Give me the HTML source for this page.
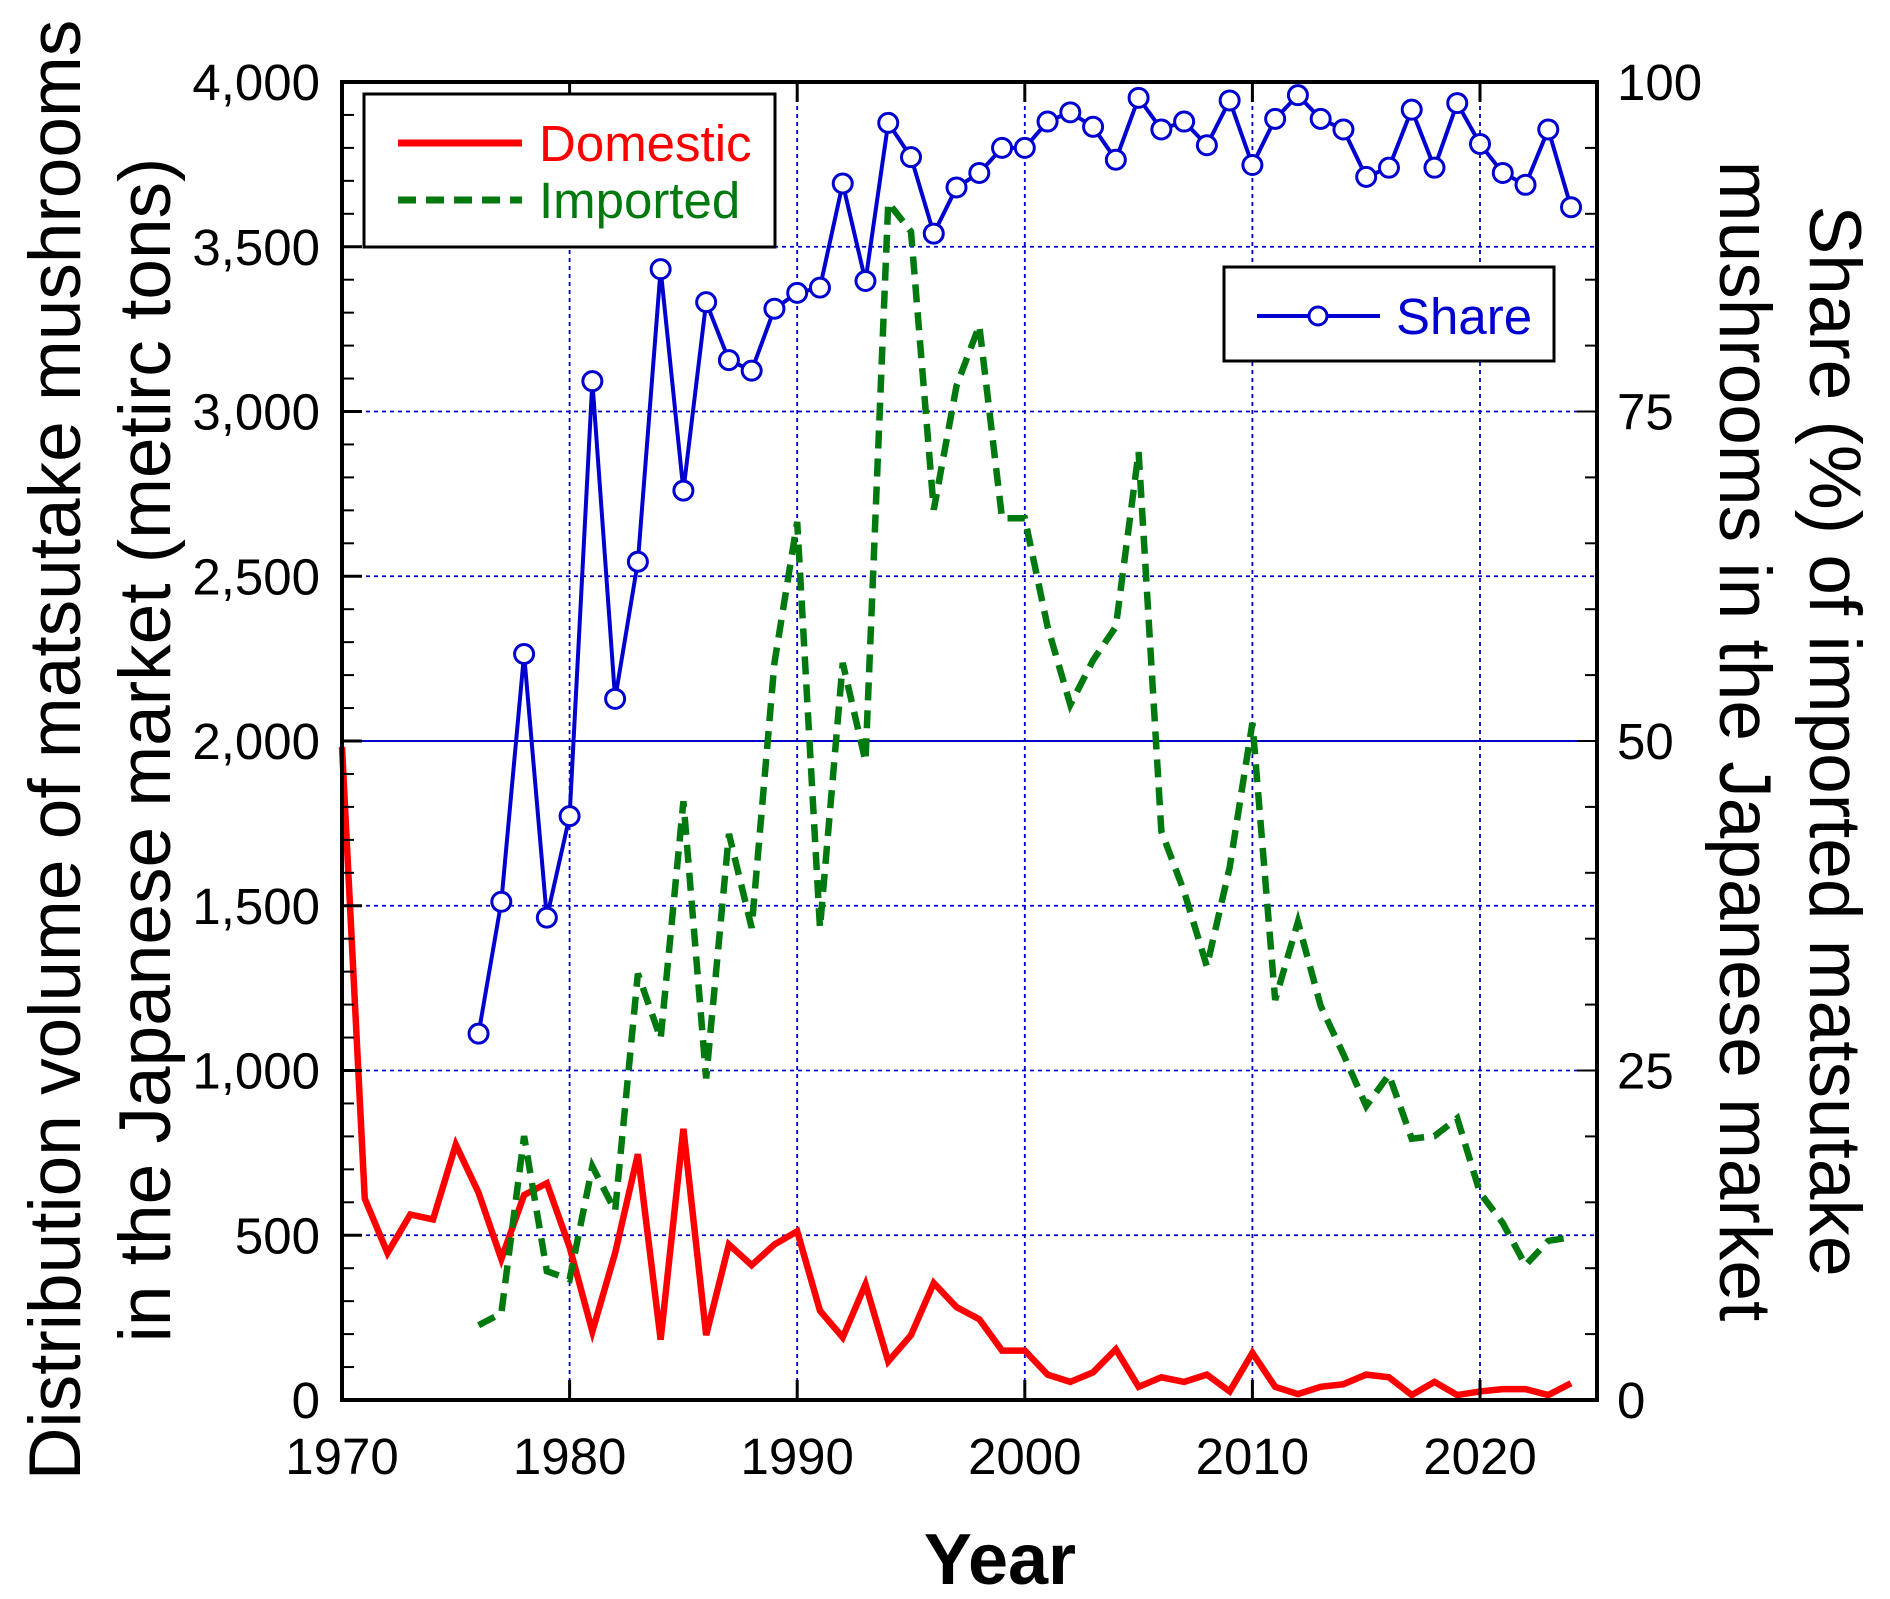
<!DOCTYPE html>
<html><head><meta charset="utf-8"><style>
html,body{margin:0;padding:0;background:#fff;}
svg{display:block;font-family:"Liberation Sans",Arial,sans-serif;}
</style></head><body>
<svg id="chart" width="1890" height="1599" viewBox="0 0 1890 1599" xmlns="http://www.w3.org/2000/svg">
<g id="grid"></g>
<g id="series"></g>
<g id="axes"></g>
<text x="1000" y="1584" font-size="72" text-anchor="middle" font-weight="bold">Year</text>
<text transform="translate(80,750) rotate(-90)" font-size="73" text-anchor="middle">Distribution volume of matsutake mushrooms</text>
<text transform="translate(170,750) rotate(-90)" font-size="73" text-anchor="middle">in the Japanese market (metirc tons)</text>
<text transform="translate(1810,741) rotate(90)" font-size="73" text-anchor="middle">Share (%) of imported matsutake</text>
<text transform="translate(1720,741) rotate(90)" font-size="73" text-anchor="middle">mushrooms in the Japanese market</text>
<g>
<rect x="364" y="94" width="411" height="153" fill="#fff" stroke="#000" stroke-width="3"/>
<line x1="398" y1="143" x2="522" y2="143" stroke="#f00" stroke-width="7"/>
<text x="539" y="161" font-size="51" fill="#f00">Domestic</text>
<line x1="398" y1="200" x2="522" y2="200" stroke="#007a0f" stroke-width="7" stroke-dasharray="18,10"/>
<text x="539" y="218" font-size="51" fill="#007a0f">Imported</text>
</g>
<g>
<rect x="1224" y="267" width="330" height="94" fill="#fff" stroke="#000" stroke-width="3"/>
<line x1="1257" y1="316" x2="1380" y2="316" stroke="#0000d0" stroke-width="4"/>
<circle cx="1318" cy="316" r="9" fill="#fff" stroke="#0000d0" stroke-width="3"/>
<text x="1396" y="334" font-size="51" fill="#0000d0">Share</text>
</g>
</svg>
<script>
const years = [];
for (let y = 1970; y <= 2024; y++) years.push(y);
const domestic = [1982,611,446,563,548,775,629,428,622,658,464,208,446,746,183,823,197,472,409,472,512,271,190,351,117,197,355,282,245,150,150,77,55,84,154,40,69,55,77,26,143,40,18,40,48,77,69,15,55,15,26,33,33,15,51];
const importYears = [];
for (let y = 1976; y <= 2024; y++) importYears.push(y);
const imported = [227,263,801,391,366,709,574,1294,1097,1817,976,1718,1433,2237,2665,1433,2237,1938,3634,3546,2702,3078,3261,2676,2676,2347,2110,2245,2347,2877,1726,1543,1316,1616,2055,1214,1451,1196,1049,892,987,793,801,855,629,537,409,483,494];
const share = [27.8,37.8,56.6,36.6,44.3,77.3,53.2,63.6,85.8,69.0,83.3,78.9,78.1,82.8,84.0,84.4,92.3,84.9,96.9,94.3,88.5,92.0,93.1,95.0,95.0,97.0,97.7,96.6,94.1,98.8,96.4,97.0,95.2,98.6,93.7,97.2,99.0,97.2,96.4,92.8,93.5,97.9,93.5,98.4,95.3,93.1,92.2,96.4,90.5];
const leftTicks = ["0","500","1,000","1,500","2,000","2,500","3,000","3,500","4,000"];
const rightTicks = ["0","25","50","75","100"];
const xTicks = ["1970","1980","1990","2000","2010","2020"];

const L=342,R=1597,T=82,B=1400;
const x = yr => L + (yr-1970)*(1480-342)/50;
const yL = v => B - v/4000*(B-T);
const yR = v => B - v/100*(B-T);
const NS="http://www.w3.org/2000/svg";
function mk(tag, parent, attrs){const e=document.createElementNS(NS,tag);for(const k in attrs)e.setAttribute(k,attrs[k]);parent.appendChild(e);return e;}
const grid=document.getElementById('grid'), ser=document.getElementById('series'), ax=document.getElementById('axes');

xTicks.forEach((t,i)=>{const yr=+t;const px=x(yr);
 if(i>0){const g=mk('line',grid,{x1:px,y1:T,x2:px,y2:B,stroke:'#0000c8','stroke-width':1.8,'stroke-dasharray':'4,4'});
 
 }
 mk('line',ax,{x1:px,y1:B,x2:px,y2:B-20,stroke:'#000','stroke-width':3});
 mk('line',ax,{x1:px,y1:T,x2:px,y2:T+20,stroke:'#000','stroke-width':3});
 const tx=mk('text',ax,{x:px,y:1474,'font-size':51,'text-anchor':'middle'});tx.textContent=t;
 
 
});
leftTicks.forEach((t,i)=>{const v=i*500;const py=yL(v);
 if(i>0&&i<8){const g=mk('line',grid,{x1:L,y1:py,x2:R,y2:py,stroke:'#0000c8','stroke-width':v===2000?2:1.8,'stroke-dasharray':v===2000?'none':'4,4'});
 
 }
 mk('line',ax,{x1:L,y1:py,x2:L+20,y2:py,stroke:'#000','stroke-width':3});
 const tx=mk('text',ax,{x:320,y:py+18,'font-size':51,'text-anchor':'end'});tx.textContent=t;
 
 
});
for(let v=100;v<4000;v+=100){if(v%500)mk('line',ax,{x1:L,y1:yL(v),x2:L+12,y2:yL(v),stroke:'#000','stroke-width':2});}
for(let v=5;v<100;v+=5){mk('line',ax,{x1:R,y1:yR(v),x2:R-(v%25?12:20),y2:yR(v),stroke:'#000','stroke-width':2});}
rightTicks.forEach((t,i)=>{const py=yR(i*25);
 const tx=mk('text',ax,{x:1617,y:py+18,'font-size':51});tx.textContent=t;
 
 
});
const frame=mk('rect',ax,{x:L,y:T,width:R-L,height:B-T,fill:'none',stroke:'#000','stroke-width':4});



const dPts=years.map((yr,i)=>x(yr)+','+yL(domestic[i])).join(' ');
const dl=mk('polyline',ser,{points:dPts,fill:'none',stroke:'#f00','stroke-width':6.5,'stroke-linejoin':'miter'});


const iPts=importYears.map((yr,i)=>x(yr)+','+yL(imported[i])).join(' ');
const il=mk('polyline',ser,{points:iPts,fill:'none',stroke:'#007a0f','stroke-width':6.5,'stroke-dasharray':'18,10'});


const sPts=importYears.map((yr,i)=>x(yr)+','+yR(share[i])).join(' ');
const sl=mk('polyline',ser,{points:sPts,fill:'none',stroke:'#0000d0','stroke-width':4});


importYears.forEach((yr,i)=>{const c=mk('circle',ser,{cx:x(yr),cy:yR(share[i]),r:9.5,fill:'#fff',stroke:'#0000d0','stroke-width':3});
 
 
});
</script>
</body></html>
